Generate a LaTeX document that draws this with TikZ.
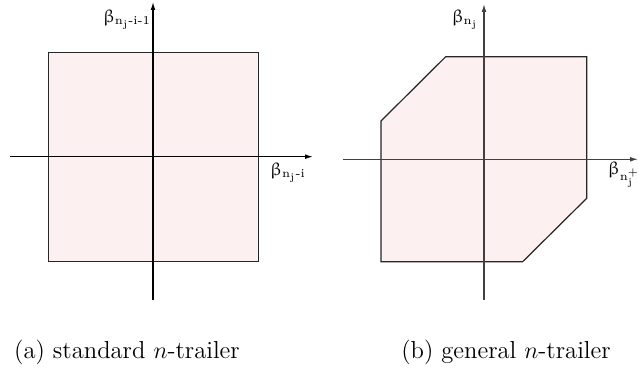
\documentclass[tikz,border=0pt]{standalone}
\usepackage{amsmath}
\usepackage{upgreek}
\usepackage{xcolor}
\usetikzlibrary{arrows.meta}
\definecolor{regionpink}{RGB}{253,240,240}
\tikzset{
  axis/.style={line width=0.6pt,-{Latex[length=4pt,width=2.4pt]}},
  region/.style={fill=regionpink,draw=black!85,line width=0.6pt},
  axlabel/.style={font=\small,inner sep=0pt},
  caption/.style={font=\fontsize{12.3}{14}\selectfont}
}

\begin{document}
\begin{tikzpicture}[x=0.5pt,y=-0.5pt]
  \useasboundingbox (0,0) rectangle (639,383);
  % (a) standard
  \draw[region] (48.7,52.7) rectangle (258.3,261.7);
  \coordinate (aw) at (10,156.7);  \coordinate (ae) at (313,156.7);
  \coordinate (as) at (153,300);   \coordinate (an) at (153,2);
  \draw[axis] (aw) -- (ae);
  \draw[axis] (as) -- (an);
  \node[axlabel] (alv) at (127,20) {$\upbeta_{\mathrm{n}_{\mathrm{j}}\text{-i-1}}$};
  \node[axlabel] (alh) at (288,173) {$\upbeta_{\mathrm{n}_{\mathrm{j}}\text{-i}}$};
  % (b) general
  \draw[region] (445.7,56.7) -- (586.7,56.7) -- (586.7,198.3) -- (522.7,261.7)
    -- (381,261.7) -- (381,121) -- cycle;
  \coordinate (bw) at (343,159.3); \coordinate (be) at (638,159.3);
  \coordinate (bs) at (484,300);   \coordinate (bn) at (484,4);
  \draw[axis,black!75] (bw) -- (be);
  \draw[axis,black!75] (bs) -- (bn);
  \node[axlabel] (blv) at (465,20) {$\upbeta_{\mathrm{n}_{\mathrm{j}}}$};
  \node[axlabel] (blh) at (624,175) {$\upbeta_{\mathrm{n}_{\mathrm{j}}^{+}}$};
  % captions
  \node[caption] (capa) at (127,352) {(a) standard $n$-trailer};
  \node[caption] (capb) at (506,352) {(b) general $n$-trailer};
\end{tikzpicture}
\end{document}
